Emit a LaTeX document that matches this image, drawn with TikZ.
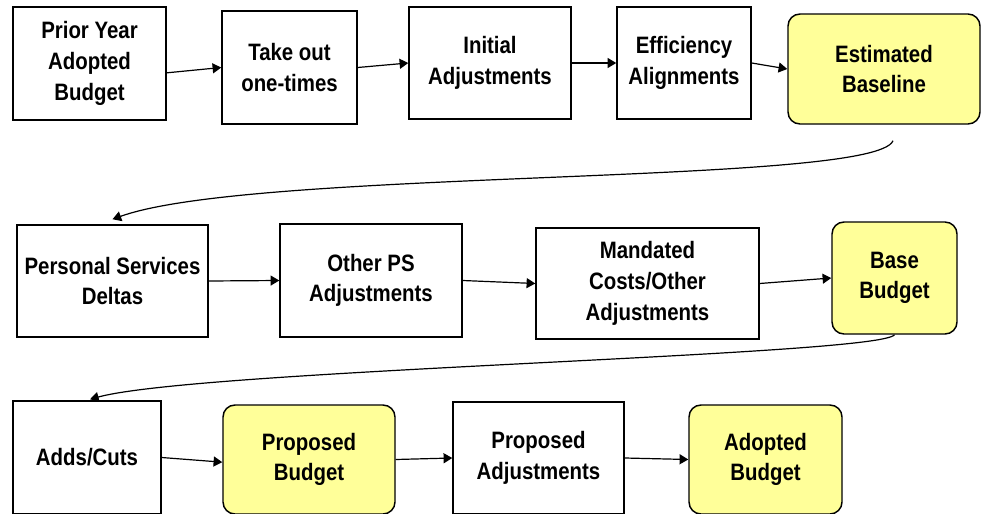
\documentclass[tikz,border=0pt]{standalone}
\usepackage{fontspec}
\setmainfont{Liberation Sans}[FakeStretch=0.86]
\usetikzlibrary{arrows.meta}
\usetikzlibrary{calc}

\definecolor{paleyellow}{HTML}{FFFF99}

\begin{document}
\begin{tikzpicture}[x=0.75pt, y=0.75pt,
        box/.style={rectangle, draw, line width=1.1pt, align=center, inner sep=0pt,
            font=\bfseries\fontsize{17.8}{23}\selectfont},
        ybox/.style={box, fill=paleyellow, rounded corners=9pt},
        boxsize/.style 2 args={minimum width=#1*0.75pt, minimum height=#2*0.75pt},
        flow/.style={-{Triangle[length=6.5pt,width=7.5pt]}, line width=0.9pt}]
        \useasboundingbox (0,0) rectangle (982,-514);

        % first row
        \node[box, boxsize={153}{113}] (prior) at (89.5,-63.5) {Prior Year\\Adopted\\Budget};
        \node[box, boxsize={135}{113}] (takeout) at (289.5,-67.5) {Take out\\one-times};
        \node[box, boxsize={162}{112}] (initial) at (490,-63) {Initial\\Adjustments};
        \node[box, boxsize={134}{112}] (effic) at (684,-63) {Efficiency\\Alignments};
        \node[ybox, boxsize={192}{110}] (estim) at (884,-69) {Estimated\\Baseline};

        % second row
        \node[box, boxsize={191}{112}] (personal) at (112.5,-281) {Personal Services\\Deltas};
        \node[box, boxsize={182}{113}] (otherps) at (371,-280.5) {Other PS\\Adjustments};
        \node[box, boxsize={223}{111}] (mandated) at (647.5,-283.5) {Mandated\\Costs/Other\\Adjustments};
        \node[ybox, boxsize={125}{112}] (base) at (894.5,-278) {Base\\Budget};

        % third row
        \node[box, boxsize={148}{113}] (adds) at (87,-457.5) {Adds/Cuts};
        \node[ybox, boxsize={172}{109}] (proposed) at (309,-459.5) {Proposed\\Budget};
        \node[box, boxsize={171}{112}] (propadj) at (538.5,-458) {Proposed\\Adjustments};
        \node[ybox, boxsize={153}{109}] (adopted) at (765.5,-459.5) {Adopted\\Budget};

        \draw[flow] ([yshift=-7pt]prior.east) -- (takeout.west);
        \draw[flow] (takeout.east) -- (initial.west);
        \draw[flow] (initial.east) -- (effic.west);
        \draw[flow] (effic.east) -- (estim.west);

        \draw[flow] (personal.east) -- (otherps.west);
        \draw[flow] (otherps.east) -- (mandated.west);
        \draw[flow] (mandated.east) -- (base.west);

        \draw[flow] (adds.east) -- ([yshift=-2pt]proposed.west);
        \draw[flow] (proposed.east) -- (propadj.west);
        \draw[flow] (propadj.east) -- (adopted.west);

        % back to the next row
        \draw[flow] ($(estim.south)+(9,-16)$) .. controls +(-18,-45) and +(141,51) ..
            ($(personal.north)+(0,5)$);
        \draw[flow] (base.south) .. controls +(-15,-21) and +(110,30) ..
            ($(adds.north)+(3,1)$);

    \end{tikzpicture}
\end{document}
